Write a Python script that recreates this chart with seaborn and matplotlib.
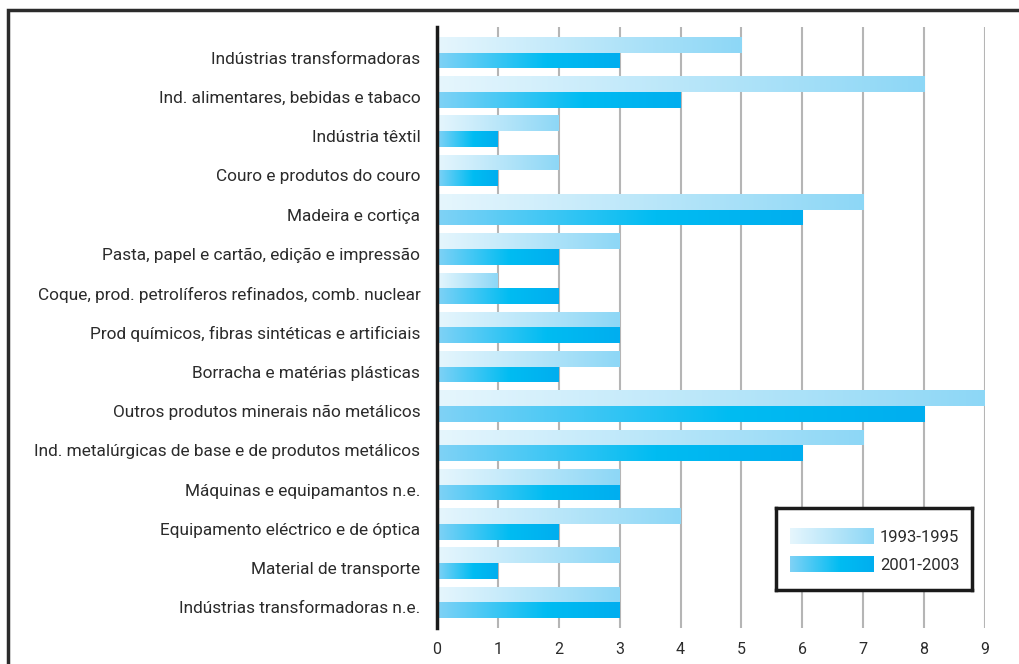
import numpy as np
import pandas as pd
import matplotlib
matplotlib.use("Agg")
import matplotlib.pyplot as plt
import matplotlib.transforms as mtransforms
import seaborn as sns
from matplotlib.colors import LinearSegmentedColormap
from matplotlib.patches import Rectangle

# data
sectors = [
    "Indústrias transformadoras",
    "Ind. alimentares, bebidas e tabaco",
    "Indústria têxtil",
    "Couro e produtos do couro",
    "Madeira e cortiça",
    "Pasta, papel e cartão, edição e impressão",
    "Coque, prod. petrolíferos refinados, comb. nuclear",
    "Prod químicos, fibras sintéticas e artificiais",
    "Borracha e matérias plásticas",
    "Outros produtos minerais não metálicos",
    "Ind. metalúrgicas de base e de produtos metálicos",
    "Máquinas e equipamantos n.e.",
    "Equipamento eléctrico e de óptica",
    "Material de transporte",
    "Indústrias transformadoras n.e.",
]
values_1993 = [5, 8, 2, 2, 7, 3, 1, 3, 3, 9, 7, 3, 4, 3, 3]
values_2001 = [3, 4, 1, 1, 6, 2, 2, 3, 2, 8, 6, 3, 2, 1, 3]
periods = ["1993-1995", "2001-2003"]

df = pd.DataFrame({
    "sector": sectors * 2,
    "value": values_1993 + values_2001,
    "period": [periods[0]] * len(sectors) + [periods[1]] * len(sectors),
})

light_cmap = LinearSegmentedColormap.from_list("light", ["#e6f6fd", "#8dd7f6"])
dark_cmap = LinearSegmentedColormap.from_list(
    "dark", [(0, "#80d2f6"), (0.6, "#00bcf2"), (1, "#00aeef")])
cmaps = {periods[0]: light_cmap, periods[1]: dark_cmap}

sns.set_style("white")
plt.rcParams["font.family"] = ["Roboto", "DejaVu Sans"]
text_color = "#2b2b2b"

fig = plt.figure(figsize=(10.19, 6.64), dpi=100)
ax = fig.add_axes([437 / 1019, 1 - 628 / 664, (985 - 437) / 1019, (628 - 27) / 664])

sns.barplot(data=df, x="value", y="sector", hue="period", hue_order=periods,
            palette=["#8dd7f6", "#00aeef"], orient="h", width=0.8,
            dodge=True, legend=False, ax=ax, zorder=3)

# replace flat fills by horizontal gradients
grad = np.linspace(0, 1, 256).reshape(1, -1)
n = len(sectors)
for i, patch in enumerate(ax.patches):
    period = periods[0] if i < n else periods[1]
    x0, y0 = patch.get_x(), patch.get_y()
    w, h = patch.get_width(), patch.get_height()
    if w <= 0:
        continue
    patch.set_facecolor("none")
    patch.set_edgecolor("none")
    im = ax.imshow(grad, cmap=cmaps[period], aspect="auto",
                   extent=[x0, x0 + w, y0 + h, y0], zorder=3)
    im.set_clip_path(patch)

ax.set_xlim(0, 9)
ax.set_ylim(n - 0.35, -0.65)
ax.set_xticks(range(10))
ax.grid(axis="x", color="#b5b5b5", linewidth=1.5, zorder=0)
ax.grid(axis="y", visible=False)
ax.set_xlabel("")
ax.set_ylabel("")
for side in ["top", "right", "bottom"]:
    ax.spines[side].set_visible(False)
ax.spines["left"].set_color("#1a1a1a")
ax.spines["left"].set_linewidth(2.5)
ax.spines["left"].set_zorder(5)
ax.tick_params(axis="y", length=0, labelsize=12.4, colors=text_color, pad=12)
ax.tick_params(axis="x", length=0, labelsize=11.5, colors=text_color, pad=10)

# labels sit a little below the bar pair centre in the reference
shift = mtransforms.ScaledTranslation(0, -5 / 100, fig.dpi_scale_trans)
for lab in ax.get_yticklabels():
    lab.set_transform(lab.get_transform() + shift)

# custom legend box with gradient swatches
lax = fig.add_axes([776 / 1019, 1 - 590 / 664, (972 - 776) / 1019, (590 - 508) / 664])
lax.set_xticks([])
lax.set_yticks([])
for s in lax.spines.values():
    s.set_linewidth(2.5)
    s.set_color("#1a1a1a")
for k, period in enumerate(periods):
    top = 20 + k * 28
    lax.imshow(grad, cmap=cmaps[period], aspect="auto",
               extent=[14, 98, top + 16, top])
    lax.text(104, top + 9, period, va="center", ha="left",
             fontsize=12, color=text_color)
lax.set_xlim(0, 196)
lax.set_ylim(82, 0)

# outer frame
fig.add_artist(Rectangle((8 / 1019, -0.05), 1.2, 1 - 10 / 664 + 0.05,
                         transform=fig.transFigure, fill=False,
                         edgecolor="#2b2b2b", linewidth=2.5))

fig.savefig("out.png", dpi=100)
